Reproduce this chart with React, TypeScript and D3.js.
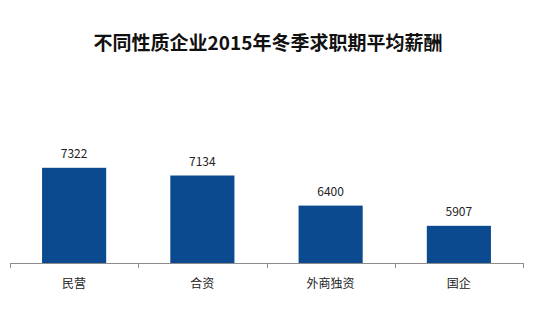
import React from "react";
import * as d3 from "d3";

const categories = ["民营", "合资", "外商独资", "国企"];
const values = [7322, 7134, 6400, 5907];
const title = "不同性质企业2015年冬季求职期平均薪酬";

const W = 536;
const H = 314;
const FONT = "'Noto Sans CJK SC', 'Noto Sans', sans-serif";

export default function App() {
  const x = d3.scaleBand<string>().domain(categories).range([10, 523]).paddingInner(0.5).paddingOuter(0.25);
  const y = d3.scaleLinear().domain([5000, 8000]).range([263, 140]);
  const tickXs = d3.range(categories.length + 1).map((i) => 10 + (i * (523 - 10)) / categories.length);
  return (
    <svg width={W} height={H} style={{ position: "absolute", left: 0, top: 0, background: "#fff" }}>
      <text x={268} y={50} textAnchor="middle" fontFamily={FONT} fontWeight="bold" fontSize={19} fill="#111">
        {title}
      </text>
      {categories.map((c, i) => (
        <g key={c}>
          <rect x={x(c)} y={y(values[i])} width={x.bandwidth()} height={y(5000) - y(values[i])} fill="#0b4a8f" />
          <text x={(x(c) as number) + x.bandwidth() / 2} y={y(values[i]) - 10} textAnchor="middle" fontFamily={FONT} fontSize={12} fill="#222">
            {values[i]}
          </text>
          <text x={(x(c) as number) + x.bandwidth() / 2} y={288} textAnchor="middle" fontFamily={FONT} fontSize={12} fill="#222">
            {c}
          </text>
        </g>
      ))}
      <line x1={10} x2={523} y1={263.5} y2={263.5} stroke="#8c8c8c" strokeWidth={1} />
      {tickXs.map((t, i) => (
        <line key={i} x1={Math.round(t) + 0.5} x2={Math.round(t) + 0.5} y1={263} y2={268} stroke="#8c8c8c" strokeWidth={1} />
      ))}
    </svg>
  );
}
